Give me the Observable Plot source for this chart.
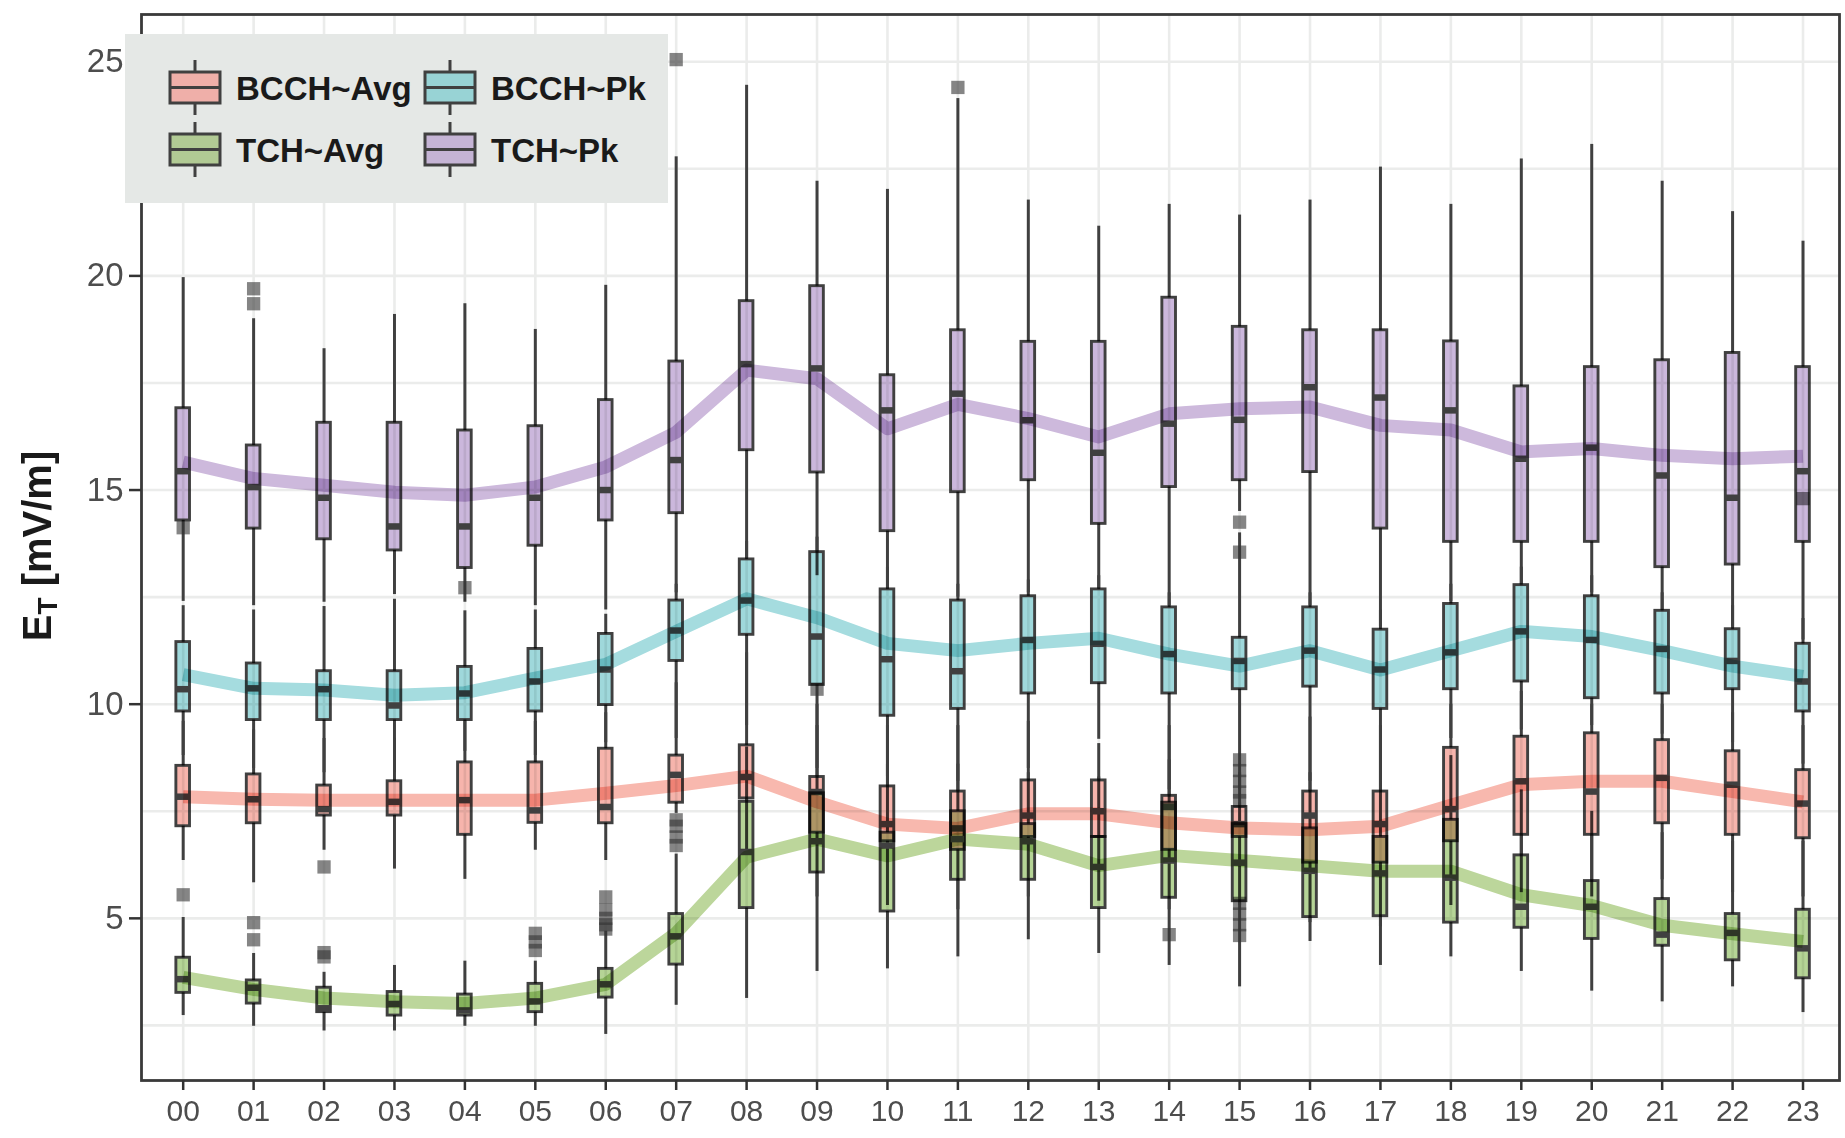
<!DOCTYPE html>
<html>
<head>
<meta charset="utf-8">
<script src="https://cdn.jsdelivr.net/npm/d3@7"></script>
<script src="https://cdn.jsdelivr.net/npm/@observablehq/plot@0.6"></script>
<style>
  html, body { margin: 0; padding: 0; background: #fff; }
  #wrap { position: relative; width: 1845px; height: 1138px; font-family: "Liberation Sans", Arial, sans-serif; }
  #ytitle { position: absolute; left: 0; top: 0; }
  #legend { position: absolute; left: 125px; top: 34px; }
</style>
</head>
<body>
<div id="wrap"></div>
<script>
// ---------- data ----------
const hours = ["00","01","02","03","04","05","06","07","08","09","10","11","12","13","14","15","16","17","18","19","20","21","22","23"];
const seriesNames = ["BCCH~Avg", "BCCH~Pk", "TCH~Avg", "TCH~Pk"];

// BCCH~Avg
const bcchAvgLo   = [6.35,5.83,6.59,6.15,5.91,6.59,6.35,7.45,6.5,5.5,5.3,5.2,5.5,5.4,5.2,5.3,4.9,4.8,5.3,5.6,5.5,5.9,5.6,5.5];
const bcchAvgQ1   = [7.15,7.22,7.4,7.4,6.95,7.23,7.22,7.7,7.8,7.0,6.8,6.6,6.9,6.9,6.6,6.9,6.3,6.3,6.8,6.95,6.95,7.22,6.95,6.87];
const bcchAvgMed  = [7.84,7.78,7.55,7.72,7.76,7.52,7.6,8.35,8.3,7.95,7.2,7.1,7.4,7.5,7.6,7.2,7.4,7.2,7.55,8.2,7.96,8.28,8.12,7.68];
const bcchAvgQ3   = [8.56,8.36,8.1,8.2,8.64,8.64,8.96,8.8,9.04,8.3,8.08,7.96,8.22,8.22,7.86,7.6,7.96,7.96,8.98,9.24,9.32,9.16,8.9,8.46];
const bcchAvgHi   = [9.6,9.4,9.2,9.2,9.6,9.6,9.8,10.5,11.2,10.0,9.5,9.5,9.6,9.08,9.5,7.7,9.7,9.5,10.0,10.3,10.0,10.0,9.8,9.5];
const bcchAvgMean = [7.84,7.78,7.76,7.76,7.76,7.76,7.92,8.1,8.32,7.72,7.2,7.1,7.44,7.44,7.23,7.11,7.07,7.15,7.64,8.12,8.2,8.2,7.96,7.72];

// BCCH~Pk
const bcchPkLo   = [8.8,8.5,8.4,8.4,8.9,8.8,9.1,9.2,9.5,8.5,8.3,8.2,8.5,9.18,8.0,8.0,8.2,8.2,9.2,9.4,9.5,9.3,9.1,8.6];
const bcchPkQ1   = [9.83,9.63,9.63,9.63,9.63,9.83,9.98,11.01,11.62,10.45,9.73,9.89,10.25,10.49,10.25,10.35,10.41,9.89,10.35,10.53,10.14,10.25,10.35,9.83];
const bcchPkMed  = [10.35,10.37,10.35,9.97,10.25,10.53,10.81,11.72,12.42,11.58,11.05,10.77,11.5,11.41,11.17,11.01,11.25,10.81,11.21,11.7,11.5,11.29,11.01,10.53];
const bcchPkQ3   = [11.45,10.95,10.77,10.77,10.87,11.29,11.64,12.42,13.38,13.55,12.68,12.42,12.52,12.68,12.26,11.55,12.26,11.74,12.34,12.78,12.52,12.18,11.75,11.41];
const bcchPkHi   = [12.3,12.2,12.28,12.45,12.18,12.2,12.1,12.8,13.8,13.9,13.2,12.8,12.9,13.0,12.6,14.0,12.6,12.2,12.8,13.2,13.0,12.6,12.3,12.0];
const bcchPkMean = [10.69,10.37,10.33,10.21,10.27,10.61,10.93,11.7,12.46,12.02,11.42,11.25,11.42,11.54,11.17,10.89,11.25,10.8,11.25,11.7,11.58,11.25,10.89,10.65];

// TCH~Avg
const tchAvgLo   = [2.73,2.48,2.37,2.37,2.48,2.48,2.29,2.97,3.13,3.76,3.82,4.1,4.5,4.18,3.9,3.4,4.46,3.9,4.1,3.76,3.3,3.05,3.4,2.8];
const tchAvgQ1   = [3.26,3.01,2.81,2.73,2.73,2.81,3.15,3.92,5.24,6.07,5.16,5.9,5.9,5.24,5.48,5.4,5.03,5.05,4.9,4.78,4.52,4.36,4.02,3.6];
const tchAvgMed  = [3.58,3.38,2.9,3.0,2.85,3.06,3.46,4.58,6.55,6.8,6.7,6.85,6.8,6.2,6.35,6.3,6.11,6.05,5.95,5.27,5.27,4.62,4.66,4.3];
const tchAvgQ3   = [4.08,3.55,3.38,3.28,3.22,3.47,3.82,5.1,7.72,7.92,7.0,7.5,7.2,6.9,7.7,7.2,7.1,6.9,7.3,6.47,5.87,5.45,5.1,5.2];
const tchAvgHi   = [5.02,4.18,3.74,3.9,4.0,4.0,4.7,6.5,9.0,9.5,8.6,8.6,8.4,8.3,8.7,8.4,8.4,8.2,8.8,8.0,7.5,7.0,6.8,6.8];
const tchAvgMean = [3.62,3.34,3.14,3.05,3.01,3.14,3.46,4.66,6.43,6.85,6.46,6.85,6.73,6.23,6.47,6.35,6.23,6.1,6.1,5.55,5.3,4.84,4.64,4.46];

// TCH~Pk
const tchPkLo   = [12.4,12.3,12.38,12.56,12.38,12.3,12.2,12.6,13.4,13.0,12.7,12.5,12.6,12.7,12.3,14.5,12.3,11.8,12.4,12.8,12.6,12.2,11.8,11.5];
const tchPkQ1   = [14.29,14.1,13.85,13.59,13.18,13.7,14.29,14.46,15.93,15.41,14.04,14.95,15.23,14.21,15.07,15.23,15.42,14.1,13.79,13.79,13.79,13.2,13.26,13.79];
const tchPkMed  = [15.44,15.07,14.82,14.15,14.15,14.82,15.0,15.7,17.94,17.84,16.86,17.25,16.63,15.87,16.55,16.64,17.4,17.16,16.86,15.73,15.99,15.34,14.82,15.44];
const tchPkQ3   = [16.91,16.04,16.57,16.57,16.39,16.49,17.1,18.0,19.41,19.76,17.68,18.73,18.46,18.46,19.49,18.81,18.73,18.73,18.47,17.42,17.87,18.03,18.2,17.87];
const tchPkHi   = [19.96,19.0,18.3,19.1,19.35,18.75,19.78,22.78,24.45,22.21,22.02,24.14,21.77,21.16,21.67,21.42,21.77,22.54,21.67,22.73,23.07,22.21,21.5,20.81];
const tchPkMean = [15.65,15.27,15.11,14.95,14.88,15.07,15.54,16.35,17.8,17.6,16.43,17.0,16.67,16.24,16.78,16.9,16.94,16.51,16.4,15.89,15.97,15.81,15.73,15.79];

// outliers
const outlierHours  = ["00","00","01","01","01","01","02","02","02","04","05","05","05","06","06","06","06","06","07","07","07","07","07","09","11","14","15","15","15","15","15","15","15","15","15","15","15","23"];
const outlierValues = [14.12,5.55,19.7,19.35,4.9,4.5,6.2,4.2,4.1,12.72,4.65,4.45,4.25,5.5,5.2,5.0,4.85,4.75,25.05,7.3,7.15,6.9,6.7,10.35,24.4,4.62,14.25,13.55,8.7,8.45,8.2,7.95,7.75,5.35,5.1,4.85,4.6,14.8];

// styling per series
const boxFill   = {"BCCH~Avg": "#f6b4ac", "BCCH~Pk": "#9fd8db", "TCH~Avg": "#b5d496", "TCH~Pk": "#cbb7dc"};
const lineColor = {"BCCH~Avg": "#f8b8ae", "BCCH~Pk": "#a5dcdf", "TCH~Avg": "#bcd69b", "TCH~Pk": "#cdb9dc"};
const keyFill   = {"BCCH~Avg": "#efafa9", "BCCH~Pk": "#98d3d5", "TCH~Avg": "#b1ca94", "TCH~Pk": "#c5b4d5"};

// ---------- build table ----------
const stats = {
  "BCCH~Avg": [bcchAvgLo, bcchAvgQ1, bcchAvgMed, bcchAvgQ3, bcchAvgHi, bcchAvgMean],
  "BCCH~Pk":  [bcchPkLo, bcchPkQ1, bcchPkMed, bcchPkQ3, bcchPkHi, bcchPkMean],
  "TCH~Avg":  [tchAvgLo, tchAvgQ1, tchAvgMed, tchAvgQ3, tchAvgHi, tchAvgMean],
  "TCH~Pk":   [tchPkLo, tchPkQ1, tchPkMed, tchPkQ3, tchPkHi, tchPkMean]
};
const rows = [];
for (const s of seriesNames) {
  const [lo, q1, med, q3, hi, mean] = stats[s];
  hours.forEach((h, i) => rows.push({series: s, hour: h, lo: lo[i], q1: q1[i], med: med[i], q3: q3[i], hi: hi[i], mean: mean[i]}));
}
const outliers = outlierHours.map((h, i) => ({hour: h, v: outlierValues[i]}));

const W = 1845, H = 1138;
const inset = 28.4;
const dark = "#404040";
const font = "'Liberation Sans', Arial, sans-serif";

const boxMarks = [];
for (const s of seriesNames) {
  const d = rows.filter(r => r.series === s);
  boxMarks.push(
    Plot.barY(d, {x: "hour", y1: "q1", y2: "q3", fill: boxFill[s], stroke: dark, strokeWidth: 2.9,
      insetLeft: inset, insetRight: inset, mixBlendMode: "multiply"}),
    Plot.tickY(d, {x: "hour", y: "med", stroke: dark, strokeWidth: 6.5, insetLeft: inset, insetRight: inset})
  );
}
const lineMarks = seriesNames.map(s =>
  Plot.line(rows.filter(r => r.series === s), {x: "hour", y: "mean", stroke: lineColor[s], strokeWidth: 13,
    strokeLinejoin: "round", strokeLinecap: "butt", mixBlendMode: "multiply"})
);

const chart = Plot.plot({
  width: W,
  height: H,
  marginLeft: 141,
  marginRight: 6,
  marginTop: 14,
  marginBottom: 58,
  style: {fontFamily: font, background: "#fff"},
  x: {type: "band", domain: hours, paddingInner: 0, paddingOuter: 0.055, round: false, range: [143.6, 1841.6], label: null},
  y: {domain: [1.214, 26.103], label: null},
  marks: [
    Plot.gridY({ticks: d3.range(2.5, 26, 2.5), stroke: "#ebeceb", strokeOpacity: 1, strokeWidth: 2.6}),
    Plot.gridX({stroke: "#ebeceb", strokeOpacity: 1, strokeWidth: 2.6}),
    Plot.ruleX(rows, {x: "hour", y1: "lo", y2: "q1", stroke: dark, strokeWidth: 3}),
    Plot.ruleX(rows, {x: "hour", y1: "q3", y2: "hi", stroke: dark, strokeWidth: 3}),
    Plot.dot(outliers, {x: "hour", y: "v", symbol: "square", r: 7.5, fill: "#333", fillOpacity: 0.6, stroke: "none"}),
    ...boxMarks,
    ...lineMarks,
    Plot.frame({stroke: "#3a3a3a", strokeWidth: 2.8}),
    Plot.axisX({tickSize: 10, tickPadding: 9, fontSize: 30, fill: "#4d4d4d", stroke: "#333", strokeWidth: 2.5, label: null}),
    Plot.axisY({ticks: [5, 10, 15, 20, 25], tickSize: 12, tickPadding: 6, fontSize: 33, fill: "#4d4d4d", stroke: "#333", strokeWidth: 2.5, label: null})
  ]
});

const wrap = document.getElementById("wrap");
wrap.appendChild(chart);

// ---------- y-axis title ----------
const ns = "http://www.w3.org/2000/svg";
const yt = document.createElementNS(ns, "svg");
yt.setAttribute("id", "ytitle");
yt.setAttribute("width", 80);
yt.setAttribute("height", H);
const t = document.createElementNS(ns, "text");
t.setAttribute("transform", "translate(37,546) rotate(-90)");
t.setAttribute("text-anchor", "middle");
t.setAttribute("dominant-baseline", "central");
t.setAttribute("font-family", font);
t.setAttribute("font-weight", "bold");
t.setAttribute("font-size", 40);
t.setAttribute("fill", "#1a1a1a");
t.innerHTML = 'E<tspan font-size="28" dy="10">T</tspan><tspan dy="-10"> [mV/m]</tspan>';
yt.appendChild(t);
wrap.appendChild(yt);

// ---------- legend ----------
const lg = document.createElementNS(ns, "svg");
lg.setAttribute("id", "legend");
lg.setAttribute("width", 543);
lg.setAttribute("height", 169);
let inner = '<rect x="0" y="0" width="543" height="169" fill="#e5e8e6"/>';
const legendOrder = [["BCCH~Avg", 0, 0], ["BCCH~Pk", 1, 0], ["TCH~Avg", 0, 1], ["TCH~Pk", 1, 1]];
for (const [s, col, row] of legendOrder) {
  const kx = col === 0 ? 45 : 300;
  const ky = row === 0 ? 38 : 100;
  const cx = kx + 25;
  inner += `<line x1="${cx}" x2="${cx}" y1="${ky - 12}" y2="${ky + 43}" stroke="${dark}" stroke-width="3"/>`;
  inner += `<rect x="${kx}" y="${ky}" width="50" height="31" fill="${keyFill[s]}" stroke="${dark}" stroke-width="3"/>`;
  inner += `<line x1="${kx}" x2="${kx + 50}" y1="${ky + 15.5}" y2="${ky + 15.5}" stroke="${dark}" stroke-width="3.2"/>`;
  inner += `<text x="${kx + 66}" y="${ky + 16}" dominant-baseline="central" font-family="${font}" font-weight="bold" font-size="33" fill="#1a1a1a">${s}</text>`;
}
lg.innerHTML = inner;
wrap.appendChild(lg);
</script>
</body>
</html>
